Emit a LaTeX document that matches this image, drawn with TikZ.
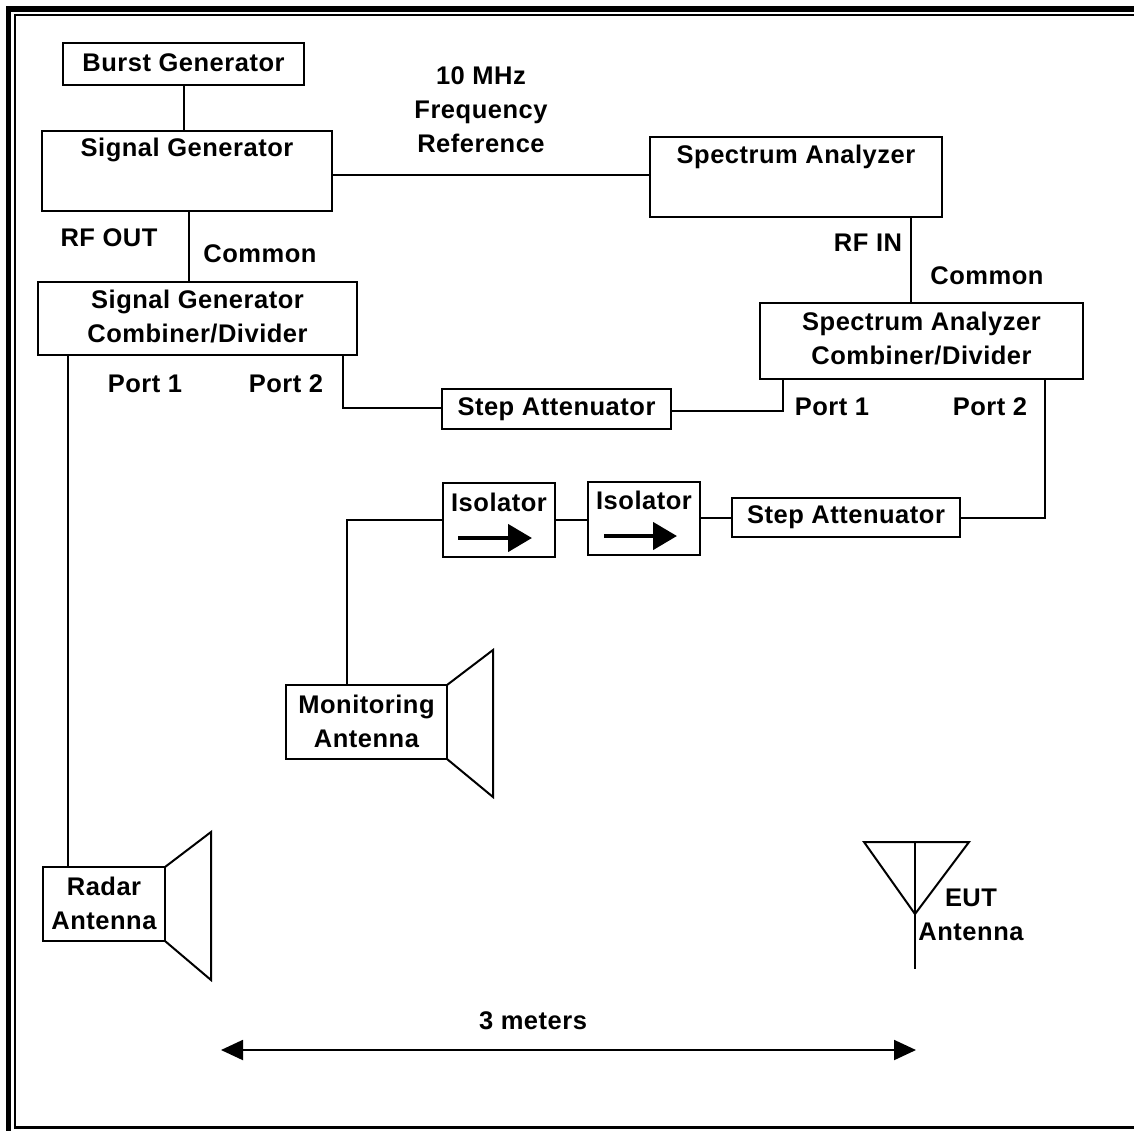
\documentclass[tikz,border=0pt]{standalone}
\usepackage{fontspec}
\setmainfont{Liberation Sans}
\usetikzlibrary{arrows.meta,calc}
\tikzset{
  box/.style={draw, line width=2pt, minimum width=#1, inner sep=0pt, outer sep=0pt},
  lbl/.style={font=\bfseries\fontsize{25.5}{34}\selectfont\addfontfeatures{LetterSpace=2}, inner sep=0pt, align=center},
  wire/.style={line width=2pt},
}
\begin{document}
\begin{tikzpicture}[x=1pt,y=-1pt]
\useasboundingbox (0,0) rectangle (1134,1130);
\clip (0,0) rectangle (1134,1130);
% frame
\draw[line width=5.5pt] (8.5,1140) -- (8.5,9) -- (1140,9);
\draw[line width=2.5pt] (1140,1127.5) -- (15,1127.5) -- (15,15) -- (1140,15);

% boxes
\node[box=241pt, minimum height=42pt] (burst) at (183.5,64) {};
\node[lbl] (burstt) at (183.5,63) {Burst Generator};
\node[box=290pt, minimum height=80pt] (sig) at (187,171) {};
\node[lbl] (sigt) at (187,150) {Signal Generator};
\node[box=292pt, minimum height=80pt] (sa) at (796,177) {};
\node[lbl] (sat) at (796,157) {Spectrum Analyzer};
\node[box=319pt, minimum height=73pt] (sgc) at (197.5,318.5) {};
\node[lbl] (sgct) at (197.5,317) {Signal Generator\\Combiner/Divider};
\node[box=323pt, minimum height=76pt] (sac) at (921.5,341) {};
\node[lbl] (sact) at (921.5,339) {Spectrum Analyzer\\Combiner/Divider};
\node[box=229pt, minimum height=40pt] (att1) at (556.5,409) {};
\node[lbl] (att1t) at (556.5,409) {Step Attenuator};
\node[box=228pt, minimum height=39pt] (att2) at (846,517.5) {};
\node[lbl] (att2t) at (846,517) {Step Attenuator};
\node[box=112pt, minimum height=74pt] (iso1) at (499,520) {};
\node[lbl] (iso1t) at (499,502) {Isolator};
\node[box=112pt, minimum height=73pt] (iso2) at (644,518.5) {};
\node[lbl] (iso2t) at (644,500) {Isolator};
\node[box=161pt, minimum height=74pt] (mon) at (366.5,722) {};
\node[lbl] (mont) at (366.5,721) {Monitoring\\Antenna};
\node[box=122pt, minimum height=74pt] (radar) at (104,904) {};
\node[lbl] (radart) at (104,903) {Radar\\Antenna};

% labels
\node[lbl] (ref) at (481,110) {10 MHz\\Frequency\\Reference};
\node[lbl] (rfout) at (109,238) {RF OUT};
\node[lbl] (com1) at (260,254) {Common};
\node[lbl] (rfin) at (868,243) {RF IN};
\node[lbl] (com2) at (987,276) {Common};
\node[lbl] (p1a) at (145,384) {Port 1};
\node[lbl] (p2a) at (286,384) {Port 2};
\node[lbl] (p1b) at (832,407) {Port 1};
\node[lbl] (p2b) at (990,407) {Port 2};
\node[lbl] (eut) at (971,915) {EUT\\Antenna};
\node[lbl] (dist) at (533,1021) {3 meters};

% connectors
\draw[wire] (burst.south) -- (burst.south |- sig.north);
\draw[wire] ($(sig.south)+(2,0)$) -- ($(sig.south |- sgc.north)+(2,0)$);
\draw[wire] (sig.east |- 0,175) -- (sa.west |- 0,175);
\draw[wire] (sa.south -| 911,0) -- (sac.north -| 911,0);
\coordinate (c1) at (343,408);
\draw[wire] (sgc.south -| c1) -- (c1) -- (att1.west |- c1);
\coordinate (c2) at (783,411);
\draw[wire] (att1.east |- c2) -- (c2) -- (sac.south -| c2);
\coordinate (c3) at (1045,518);
\draw[wire] (att2.east |- c3) -- (c3) -- (sac.south -| c3);
\draw[wire] (iso2.east |- 0,518) -- (att2.west |- 0,518);
\draw[wire] (iso1.east |- 0,520) -- (iso2.west |- 0,520);
\coordinate (c4) at (347,519.5);
\draw[wire] (mon.north -| c4) -- (c4) -- (iso1.west |- c4);
\draw[wire] (sgc.south -| 68,0) -- (radar.north -| 68,0);

% isolator arrows
\draw[line width=4.5pt, -{Triangle[length=24pt,width=27pt]}] (458,538) -- (532,538);
\draw[line width=4.5pt, -{Triangle[length=24pt,width=27pt]}] (604,536) -- (677,536);

% horns
\draw[wire, line join=miter] (mon.north east) -- (493,650) -- (493,797) -- (mon.south east);
\draw[wire, line join=miter] (radar.north east) -- (211,832) -- (211,980) -- (radar.south east);

% EUT antenna
\draw[wire, line join=miter] (864,842) -- (969,842) -- (915,914) -- cycle;
\draw[wire] (915,842) -- (915,969);

% distance arrow
\draw[wire, {Triangle[length=22pt,width=20pt]}-{Triangle[length=22pt,width=20pt]}] (221,1050) -- (916,1050);
\end{tikzpicture}
\end{document}
